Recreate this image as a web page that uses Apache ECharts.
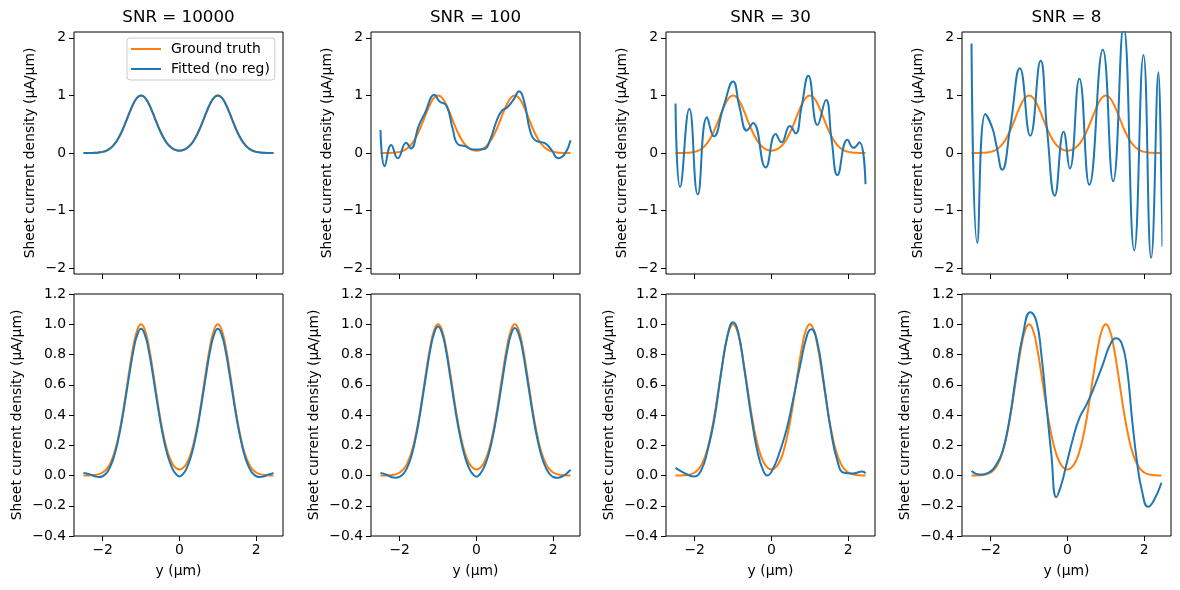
<!DOCTYPE html>
<html>
<head>
<meta charset="utf-8">
<script src="https://cdn.jsdelivr.net/npm/echarts@6/dist/echarts.min.js"></script>
<style>
  html, body { margin: 0; padding: 0; background: #fff; }
  #chart { width: 1180px; height: 590px; }
</style>
</head>
<body>
<div id="chart"></div>
<script>
// titles and axis ticks
const snrTitles = ["SNR = 10000", "SNR = 100", "SNR = 30", "SNR = 8"];
const xTicks = [-2, 0, 2];
const topYTicks = [-2, -1, 0, 1, 2];
const bottomYTicks = [-0.4, -0.2, 0, 0.2, 0.4, 0.6, 0.8, 1.0, 1.2];

// ground truth, sampled on y grid (µm)
const gtX = [-2.5, -2.4, -2.3, -2.2, -2.1, -2.0, -1.9, -1.8, -1.7, -1.6, -1.5, -1.4, -1.3, -1.2, -1.1, -1.0,
  -0.9, -0.8, -0.7, -0.6, -0.5, -0.4, -0.3, -0.2, -0.1, 0, 0.1, 0.2, 0.3, 0.4, 0.5, 0.6, 0.7, 0.8, 0.9,
  1.0, 1.1, 1.2, 1.3, 1.4, 1.5, 1.6, 1.7, 1.8, 1.9, 2.0, 2.1, 2.2, 2.3, 2.4, 2.45];
const gtY = [0.0002, 0.0005, 0.0014, 0.0036, 0.009, 0.020, 0.042, 0.082, 0.148, 0.246, 0.377, 0.536, 0.704, 0.856, 0.962, 1.0,
  0.962, 0.856, 0.704, 0.536, 0.377, 0.247, 0.149, 0.086, 0.051, 0.040, 0.051, 0.086, 0.149, 0.247, 0.377, 0.536, 0.704, 0.856, 0.962,
  1.0, 0.962, 0.856, 0.704, 0.536, 0.377, 0.246, 0.148, 0.082, 0.042, 0.020, 0.009, 0.0036, 0.0014, 0.0005, 0.0003];

// fitted, no regularisation (top row)
const fit10000TopY = [0.0002, 0.0005, 0.0014, 0.0036, 0.009, 0.020, 0.042, 0.082, 0.148, 0.246, 0.377, 0.536, 0.704, 0.856, 0.962, 1.0,
  0.962, 0.856, 0.704, 0.536, 0.377, 0.247, 0.149, 0.086, 0.051, 0.040, 0.051, 0.086, 0.149, 0.247, 0.377, 0.536, 0.704, 0.856, 0.962,
  1.0, 0.962, 0.856, 0.704, 0.536, 0.377, 0.246, 0.148, 0.082, 0.042, 0.020, 0.009, 0.0036, 0.0014, 0.0005, 0.0003];

const fit100TopX = [-2.5, -2.39, -2.22, -2.05, -1.83, -1.71, -1.50, -1.35, -1.09, -0.97, -0.78, -0.62, -0.48, -0.30, -0.09,
  0.20, 0.35, 0.52, 0.66, 0.80, 0.97, 1.11, 1.24, 1.40, 1.53, 1.78, 1.96, 2.12, 2.30, 2.45];
const fit100TopY = [0.40, -0.23, 0.14, -0.09, 0.18, 0.08, 0.48, 0.68, 1.01, 0.90, 0.82, 0.42, 0.15, 0.12, 0.06,
  0.07, 0.22, 0.55, 0.73, 0.79, 0.93, 1.07, 0.90, 0.38, 0.22, 0.17, 0.05, -0.09, -0.02, 0.22];

const fit30TopX = [-2.5, -2.38, -2.14, -1.92, -1.68, -1.50, -1.25, -1.0, -0.83, -0.64, -0.48, -0.15, 0.11, 0.26, 0.48,
  0.63, 0.78, 0.96, 1.20, 1.42, 1.57, 1.72, 1.98, 2.14, 2.29, 2.45];
const fit30TopY = [0.86, -0.59, 0.77, -0.72, 0.62, 0.29, 0.80, 1.24, 0.79, 0.39, 0.52, -0.25, 0.33, 0.185, 0.47,
  0.34, 0.79, 1.34, 0.485, 0.92, 0.21, -0.38, 0.23, 0.09, 0.185, -0.54];

const fit8TopX = [-2.5, -2.35, -2.14, -1.96, -1.86, -1.70, -1.49, -1.24, -0.97, -0.70, -0.53, -0.33, -0.10, 0.06,
  0.31, 0.57, 0.92, 1.19, 1.46, 1.74, 1.98, 2.18, 2.37, 2.45];
const fit8TopY = [1.90, -1.56, 0.675, 0.44, 0.16, -0.29, 0.45, 1.47, 0.30, 1.60, 0.39, -0.74, 0.37, -0.27,
  1.29, -0.55, 1.79, -0.49, 2.2, -1.69, 1.70, -1.82, 1.40, -1.62];

// fitted (bottom row)
const fit10000BottomY = [0.016, 0.012, 0.004, -0.005, -0.010, -0.005, 0.016, 0.060, 0.130, 0.232, 0.362, 0.517, 0.677, 0.826, 0.930, 0.970,
  0.930, 0.826, 0.677, 0.515, 0.360, 0.228, 0.126, 0.055, 0.012, -0.006, 0.012, 0.055, 0.126, 0.228, 0.360, 0.515, 0.677, 0.826, 0.930,
  0.970, 0.930, 0.826, 0.677, 0.517, 0.362, 0.232, 0.130, 0.060, 0.016, -0.005, -0.010, -0.005, 0.004, 0.012, 0.017];

const fit100BottomY = [0.016, 0.010, 0.0, -0.012, -0.015, -0.008, 0.012, 0.055, 0.125, 0.228, 0.362, 0.520, 0.683, 0.836, 0.943, 0.985,
  0.944, 0.836, 0.680, 0.515, 0.358, 0.226, 0.124, 0.053, 0.010, -0.008, 0.012, 0.056, 0.126, 0.226, 0.356, 0.510, 0.672, 0.825, 0.932,
  0.975, 0.935, 0.830, 0.676, 0.514, 0.357, 0.226, 0.125, 0.055, 0.012, -0.010, -0.015, -0.010, 0.003, 0.025, 0.038];

const fit30BottomX = [-2.5, -2.28, -2.03, -1.84, -1.66, -1.49, -1.31, -1.14, -1.0, -0.87, -0.70, -0.52, -0.35, -0.21, -0.11,
  0.05, 0.22, 0.40, 0.57, 0.75, 0.93, 1.04, 1.19, 1.36, 1.54, 1.72, 1.89, 2.11, 2.37, 2.45];
const fit30BottomY = [0.05, 0.018, -0.007, 0.03, 0.17, 0.37, 0.68, 0.93, 1.013, 0.95, 0.69, 0.38, 0.14, 0.03, 0.0,
  0.05, 0.16, 0.31, 0.51, 0.73, 0.93, 0.967, 0.886, 0.62, 0.31, 0.095, 0.018, 0.013, 0.026, 0.013];

const fit8BottomX = [-2.5, -2.30, -2.03, -1.86, -1.69, -1.51, -1.34, -1.16, -0.97, -0.81, -0.68, -0.55, -0.42, -0.29, -0.16,
  -0.03, 0.15, 0.31, 0.50, 0.72, 0.93, 1.11, 1.26, 1.41, 1.55, 1.68, 1.81, 1.94, 2.10, 2.24, 2.45];
const fit8BottomY = [0.029, 0.007, 0.022, 0.07, 0.16, 0.37, 0.66, 0.93, 1.08, 1.02, 0.80, 0.47, 0.14, -0.143, -0.06,
  0.07, 0.25, 0.38, 0.47, 0.60, 0.74, 0.864, 0.908, 0.875, 0.71, 0.38, 0.095, -0.10, -0.207, -0.17, -0.048];

const topFits = [[gtX, fit10000TopY], [fit100TopX, fit100TopY], [fit30TopX, fit30TopY], [fit8TopX, fit8TopY]];
const bottomFits = [[gtX, fit10000BottomY], [gtX, fit100BottomY], [fit30BottomX, fit30BottomY], [fit8BottomX, fit8BottomY]];

const ORANGE = "#ff7f0e";
const BLUE = "#1f77b4";
const FONT = "DejaVu Sans";
const colLeft = [74, 371, 666, 962];
const rowTop = [32, 294];
const cellW = 209;
const cellH = 242;

function minus(text) {
  return String(text).replace("-", "\u2212");
}

function pairs(xs, ys) {
  return xs.map((x, i) => [x, ys[i]]);
}

const grid = [];
const xAxis = [];
const yAxis = [];
const series = [];
const title = [];

for (let row = 0; row < 2; row++) {
  for (let col = 0; col < 4; col++) {
    const idx = row * 4 + col;
    const isBottom = row === 1;
    grid.push({
      left: colLeft[col], top: rowTop[row], width: cellW, height: cellH,
      show: true, borderColor: "#000", borderWidth: 1, backgroundColor: "transparent",
    });
    xAxis.push({
      type: "value", gridIndex: idx, min: -2.7475, max: 2.6975, position: "bottom",
      splitLine: { show: false },
      axisLine: { show: false, onZero: false },
      axisTick: { show: true, length: 5, lineStyle: { color: "#000", width: 1 }, customValues: xTicks },
      axisLabel: {
        show: isBottom, customValues: xTicks, color: "#000", fontFamily: FONT, fontSize: 13.9, margin: 7,
        formatter: (v) => minus(v),
      },
      name: isBottom ? "y (µm)" : "",
      nameLocation: "middle", nameGap: 28,
      nameTextStyle: { color: "#000", fontFamily: FONT, fontSize: 13.9 },
    });
    const ticks = isBottom ? bottomYTicks : topYTicks;
    yAxis.push({
      type: "value", gridIndex: idx, position: "left",
      min: isBottom ? -0.4 : -2.1, max: isBottom ? 1.2 : 2.1,
      splitLine: { show: false },
      axisLine: { show: false, onZero: false },
      axisTick: { show: true, length: 5, lineStyle: { color: "#000", width: 1 }, customValues: ticks },
      axisLabel: {
        customValues: ticks, color: "#000", fontFamily: FONT, fontSize: 13.9, margin: 8,
        formatter: (v) => minus(isBottom ? Number(v).toFixed(1) : Math.round(v)),
      },
      name: "Sheet current density (µA/µm)",
      nameLocation: "middle", nameRotate: 90, nameGap: isBottom ? 50 : 37,
      nameTextStyle: { color: "#000", fontFamily: FONT, fontSize: 13.9 },
    });
    const fit = isBottom ? bottomFits[col] : topFits[col];
    series.push({
      name: "Ground truth", type: "line", xAxisIndex: idx, yAxisIndex: idx,
      data: pairs(gtX, gtY), symbol: "none", smooth: true,
      lineStyle: { color: ORANGE, width: 2 }, itemStyle: { color: ORANGE },
    });
    series.push({
      name: isBottom ? "Fitted (reg)" : "Fitted (no reg)", type: "line", xAxisIndex: idx, yAxisIndex: idx,
      data: pairs(fit[0], fit[1]), symbol: "none", smooth: true,
      lineStyle: { color: BLUE, width: 2 }, itemStyle: { color: BLUE },
    });
  }
}

snrTitles.forEach((t, col) => {
  title.push({
    text: t, left: colLeft[col] + cellW / 2, top: 9, textAlign: "center", padding: 0,
    textStyle: { color: "#000", fontFamily: FONT, fontSize: 16.7, fontWeight: "normal" },
  });
});

const chart = echarts.init(document.getElementById("chart"), null, { renderer: "canvas" });
chart.setOption({
  animation: false,
  backgroundColor: "#fff",
  title,
  legend: {
    data: ["Ground truth", "Fitted (no reg)"],
    orient: "vertical", left: 127, top: 38,
    icon: "rect", itemWidth: 30, itemHeight: 2, itemGap: 6,
    padding: [4, 5, 4, 4],
    borderColor: "#ccc", borderWidth: 1, borderRadius: 3,
    backgroundColor: "rgba(255,255,255,0.8)",
    textStyle: { color: "#000", fontFamily: FONT, fontSize: 13.9, padding: [0, 0, 0, 5] },
    selectedMode: false,
  },
  grid, xAxis, yAxis, series,
});
</script>
</body>
</html>
